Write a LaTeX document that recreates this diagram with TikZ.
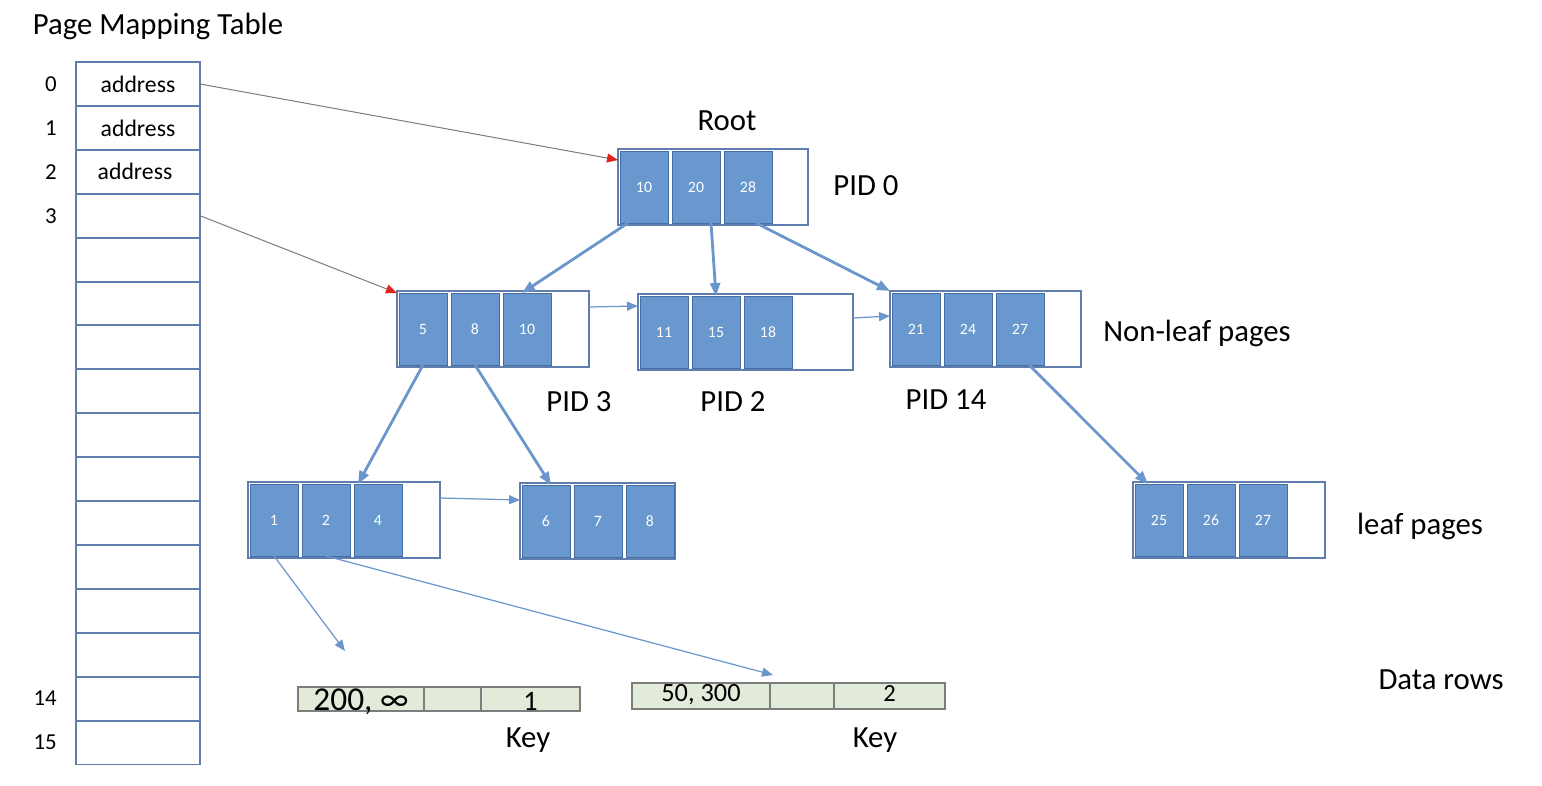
\documentclass[tikz,border=0pt]{standalone}
\usepackage{fontspec}
\setmainfont{Carlito}
\usepackage{xcolor}
\usetikzlibrary{arrows.meta,positioning,calc}
\definecolor{cellblue}{RGB}{104,152,206}
\definecolor{celledge}{RGB}{70,110,165}
\definecolor{pageedge}{RGB}{95,125,175}
\definecolor{linkblue}{RGB}{106,150,204}
\definecolor{rowfill}{RGB}{226,234,218}
\definecolor{rowgray}{RGB}{125,125,125}
\definecolor{ptrgray}{RGB}{130,130,130}
\definecolor{ptrred}{RGB}{225,35,30}
\tikzstyle{pagebox}=[draw=pageedge, line width=0.9pt, fill=white, minimum height=1.52cm, inner sep=0, outer sep=0]
\tikzstyle{cellbox}=[draw=celledge, line width=0.5pt, fill=cellblue, text=white, minimum width=0.96cm, minimum height=1.44cm, inner sep=0, outer sep=0, font=\fontsize{9}{10}\selectfont]
\tikzstyle{slot}=[draw=pageedge, line width=1.1pt, minimum width=2.48cm, minimum height=0.88cm, inner sep=0, outer sep=0]
\tikzstyle{idx}=[inner sep=0, font=\fontsize{13}{15}\selectfont]
\tikzstyle{lbl}=[inner sep=0, font=\fontsize{17.5}{20}\selectfont]
\tikzstyle{treelink}=[draw=linkblue, line width=1.6pt, -{Triangle[length=0.26cm,width=0.2cm]}]
\tikzstyle{sibling}=[draw=linkblue, line width=0.7pt, -{Triangle[length=0.22cm,width=0.18cm]}]
\tikzstyle{pointer}=[draw=ptrgray, line width=0.6pt, -{Triangle[length=0.22cm,width=0.18cm,color=ptrred]}]
\tikzstyle{datacell}=[draw=rowgray, fill=rowfill, line width=1.4pt, inner sep=0, outer sep=0]
% page: name, west point, width (px), three keys
\newcommand{\pidPage}[6]{
	\node[pagebox, minimum width=#3*0.02cm, anchor=west] (#1) at #2 {};
	\node[cellbox, anchor=west] (#1-1) at ($(#1.west)+(2,0)$) {#4};
	\node[cellbox, anchor=west] (#1-2) at ($(#1.west)+(54,0)$) {#5};
	\node[cellbox, anchor=west] (#1-3) at ($(#1.west)+(106,0)$) {#6};
}

\begin{document}
\begin{tikzpicture}[x=0.02cm, y=-0.02cm]
	\useasboundingbox (0,0) rectangle (1542,786);
	\node[lbl] (title) at (158,26) {Page Mapping Table};
	\foreach \i in {0,...,15}
		\node[slot] (r\i) at (138,84+43.9*\i) {};
	\foreach \i in {0,1,2,3,14,15}
		\node[idx, left=0.38cm of r\i] (n\i) {\i};
	\node[font=\fontsize{13.5}{15}\selectfont] (a0) at (r0) {address};
	\node[font=\fontsize{13.5}{15}\selectfont] (a1) at (r1) {address};
	\node[font=\fontsize{13.5}{15}\selectfont] (a2) at ([xshift=-0.06cm]r2) {address};
	% tree pages
	\pidPage{root}{(618,187)}{190}{10}{20}{28}
	\pidPage{pid3}{(397,329)}{192}{5}{8}{10}
	\pidPage{pid2}{(638,332)}{215}{11}{15}{18}
	\pidPage{pid14}{(890,329)}{191}{21}{24}{27}
	\pidPage{leafA}{(248,520)}{192}{1}{2}{4}
	\pidPage{leafB}{(520,521)}{155}{6}{7}{8}
	\pidPage{leafC}{(1133,520)}{192}{25}{26}{27}
	\node[lbl] (rootlbl) at (727,121) {Root};
	\node[lbl] (pid0lbl) at (866,186) {PID 0};
	\node[lbl] (pid3lbl) at (579,402) {PID 3};
	\node[lbl] (pid2lbl) at (733,402) {PID 2};
	\node[lbl] (pid14lbl) at (946,400) {PID 14};
	\node[lbl] (nonleaf) at (1197,333) {Non-leaf pages};
	\node[lbl] (leaflbl) at (1420,526) {leaf pages};
	\node[lbl] (datalbl) at (1441,680) {Data rows};
	% data rows
	\node[datacell, minimum width=126*0.02cm, minimum height=0.48cm, text height=0.48cm, text depth=0pt, anchor=west, font=\fontsize{19}{20}\selectfont] (ka1) at (298,699) {200, ∞};
	\node[datacell, minimum width=57*0.02cm, minimum height=0.48cm, right=0pt of ka1] (ka2) {};
	\node[datacell, minimum width=99*0.02cm, minimum height=0.48cm, text height=0.48cm, text depth=0pt, right=0pt of ka2, font=\fontsize{16}{18}\selectfont] (ka3) {1};
	\node[datacell, minimum width=138*0.02cm, minimum height=0.52cm, text height=0.38cm, text depth=0.14cm, anchor=west, font=\fontsize{15}{17}\selectfont] (kb1) at (632,696) {50, 300};
	\node[datacell, minimum width=64*0.02cm, minimum height=0.52cm, right=0pt of kb1] (kb2) {};
	\node[datacell, minimum width=111*0.02cm, minimum height=0.52cm, text height=0.38cm, text depth=0.14cm, right=0pt of kb2, font=\fontsize{14}{16}\selectfont] (kb3) {2};
	\node[lbl] (keyA) at (528,740) {Key};
	\node[lbl] (keyB) at (875,740) {Key};
	\coordinate (dA) at (345,651);
	\coordinate (dB) at (773,675);
	% connectors
	\draw[pointer] (r0.east) -- ([yshift=-0.22cm]root.north west);
	\draw[pointer] (r3.east) -- ([yshift=-0.04cm]pid3.north west);
	\draw[treelink] ([xshift=-0.32cm]root-1.south) -- ([xshift=-0.1cm]pid3-3.north);
	\draw[treelink] ([xshift=0.3cm]root-2.south) -- (pid2-2.north);
	\draw[treelink] ([xshift=0.16cm]root-3.south) -- (pid14.north west);
	\draw[sibling] ([yshift=0.44cm]pid3.east) -- ([yshift=0.52cm]pid2.west);
	\draw[sibling] ([yshift=0.28cm]pid2.east) -- ([yshift=0.26cm]pid14.west);
	\draw[treelink] (pid3-1.south) -- ([xshift=-0.4cm]leafA-3.north);
	\draw[treelink] (pid3-2.south) -- ([xshift=0.1cm]leafB-1.north);
	\draw[treelink] ([xshift=0.18cm]pid14-3.south) -- ([xshift=-0.22cm]leafC-1.north);
	\draw[sibling] ([yshift=0.44cm]leafA.east) -- ([yshift=0.42cm]leafB.west);
	\draw[sibling] (leafA-1.south) -- (dA);
	\draw[sibling] (leafA-2.south) -- (dB);
\end{tikzpicture}
\end{document}
